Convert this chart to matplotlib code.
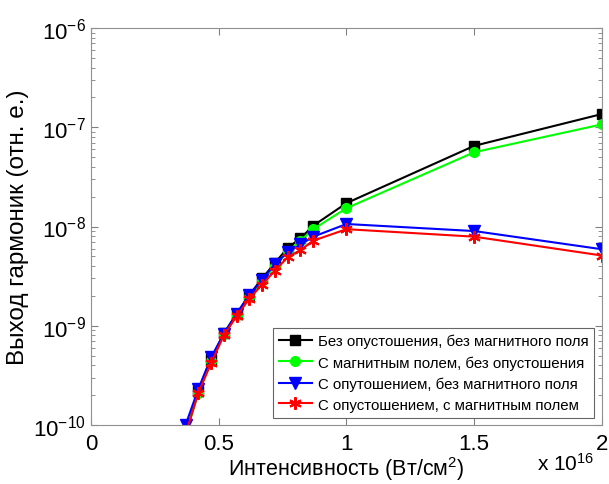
import matplotlib
matplotlib.use("Agg")
import matplotlib.pyplot as plt
from matplotlib.ticker import LogLocator, NullFormatter, FixedLocator

plt.rcParams["font.family"] = ["Liberation Sans", "DejaVu Sans"]
plt.rcParams["mathtext.fontset"] = "custom"
plt.rcParams["mathtext.rm"] = "Liberation Sans"
plt.rcParams["mathtext.it"] = "Liberation Sans:italic"

# intensity in units of 1e16 W/cm^2
intensity = [0.37, 0.42, 0.47, 0.52, 0.57, 0.62, 0.67, 0.72, 0.77, 0.82, 0.87, 1.0, 1.5, 2.0]

no_depl_no_field = [0.8e-10, 2.2e-10, 4.6e-10, 8.4e-10, 1.32e-9, 2.05e-9, 3.0e-9, 4.3e-9, 6.1e-9, 7.6e-9,
                    1.02e-8, 1.72e-8, 6.5e-8, 1.36e-7]
field_no_depl = [0.8e-10, 2.1e-10, 4.4e-10, 8.2e-10, 1.28e-9, 1.95e-9, 2.8e-9, 4.0e-9, 5.6e-9, 7.2e-9,
                 9.4e-9, 1.53e-8, 5.6e-8, 1.07e-7]
depl_no_field = [1.0e-10, 2.3e-10, 4.8e-10, 8.3e-10, 1.32e-9, 2.05e-9, 2.9e-9, 4.2e-9, 5.5e-9, 6.6e-9,
                 7.9e-9, 1.06e-8, 9.0e-9, 5.9e-9]
depl_field = [0.8e-10, 2.1e-10, 4.2e-10, 8.0e-10, 1.25e-9, 1.88e-9, 2.6e-9, 3.6e-9, 4.9e-9, 5.8e-9,
              7.2e-9, 9.4e-9, 7.9e-9, 5.1e-9]

labels = [
    "Без опустошения, без магнитного поля",
    "С магнитным полем, без опустошения",
    "С опутошением, без магнитного поля",
    "С опустошением, с магнитным полем",
]
x_ticks = [0, 0.5, 1, 1.5, 2]
x_ticklabels = ["0", "0.5", "1", "1.5", "2"]
y_ticks = [1e-10, 1e-9, 1e-8, 1e-7, 1e-6]
y_ticklabels = [r"10$^{-10}$", r"10$^{-9}$", r"10$^{-8}$", r"10$^{-7}$", r"10$^{-6}$"]

fig = plt.figure(figsize=(6.09, 4.85), dpi=100)
ax = fig.add_axes([0.1494, 0.1216, 0.8391, 0.8186])

ax.plot(intensity, no_depl_no_field, color="black", marker="s", markersize=7, linewidth=1.5, label=labels[0])
ax.plot(intensity, field_no_depl, color="#00ff00", marker="o", markersize=7, linewidth=1.5, label=labels[1])
ax.plot(intensity, depl_no_field, color="blue", marker="v", markersize=9, linewidth=1.5, label=labels[2])
ax.plot(intensity, depl_field, color="red", marker=(6, 2, 0), markersize=9, markeredgewidth=1.5,
        linewidth=1.5, label=labels[3])

ax.set_yscale("log")
ax.set_xlim(0, 2)
ax.set_ylim(1e-10, 1e-6)
ax.xaxis.set_major_locator(FixedLocator(x_ticks))
ax.set_xticklabels(x_ticklabels)
ax.yaxis.set_major_locator(FixedLocator(y_ticks))
ax.set_yticklabels(y_ticklabels)
ax.yaxis.set_minor_locator(LogLocator(base=10, subs=range(2, 10), numticks=50))
ax.yaxis.set_minor_formatter(NullFormatter())

ax.tick_params(which="both", direction="in", top=True, right=True, colors="#808080",
               labelcolor="black", labelsize=16)
ax.tick_params(which="major", length=5)
ax.tick_params(which="minor", length=3)
ax.tick_params(axis="x", pad=6)
for s in ax.spines.values():
    s.set_color("#909090")

ax.set_xlabel("Интенсивность (Вт/см$^2$)", fontsize=15.5, labelpad=0)
ax.set_ylabel("Выход гармоник (отн. е.)", fontsize=17.5, labelpad=3)
fig.text(0.882, 0.022, r"x 10$^{16}$", fontsize=15, ha="left", va="bottom")

leg = ax.legend(loc="lower right", fontsize=10.8, frameon=True, fancybox=False,
                handlelength=2.2, handletextpad=0.4, borderaxespad=0.5,
                labelspacing=0.45, borderpad=0.4)
leg.get_frame().set_edgecolor("#404040")
leg.get_frame().set_linewidth(0.8)

fig.savefig("out.png", dpi=100)
